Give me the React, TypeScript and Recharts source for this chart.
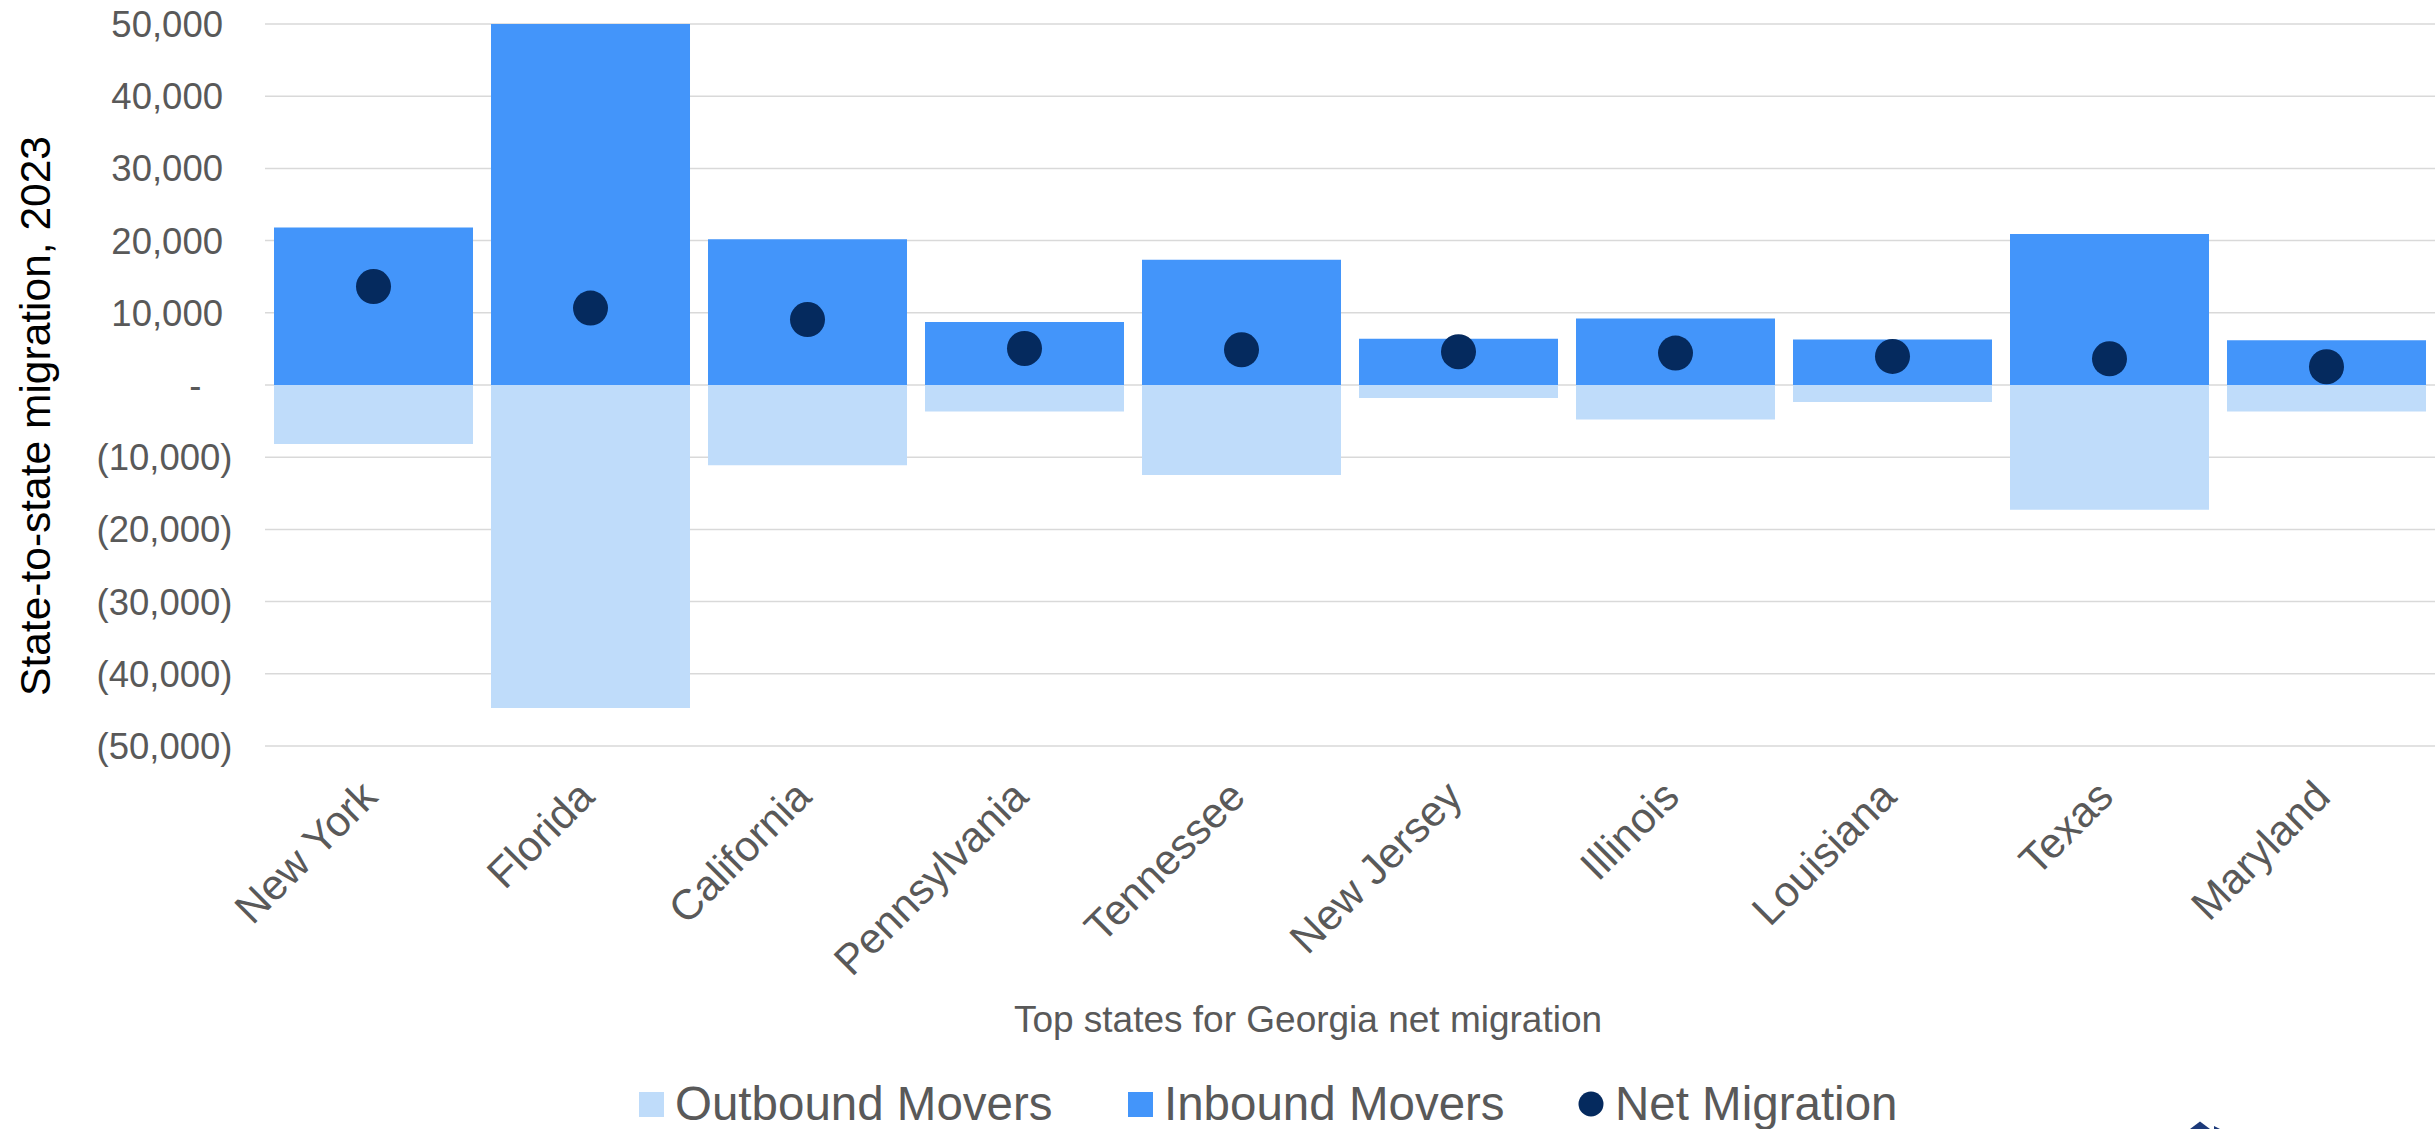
import React from 'react';
import {
  ComposedChart,
  Bar,
  Line,
  XAxis,
  YAxis,
  CartesianGrid,
  Legend,
} from 'recharts';

// Top states for Georgia net migration, 2023
const states = [
  'New York',
  'Florida',
  'California',
  'Pennsylvania',
  'Tennessee',
  'New Jersey',
  'Illinois',
  'Louisiana',
  'Texas',
  'Maryland',
];
const outboundMovers = [-8180, -44730, -11120, -3680, -12460, -1790, -4780, -2340, -17290, -3680];
const inboundMovers = [21820, 55380, 20190, 8740, 17340, 6400, 9200, 6300, 20920, 6210];
const netMigration = [13640, 10650, 9070, 5060, 4880, 4610, 4420, 3960, 3630, 2530];

const yTicks = [-50000, -40000, -30000, -20000, -10000, 0, 10000, 20000, 30000, 40000, 50000];

const COLORS = {
  outbound: '#BFDCFA',
  inbound: '#4395FA',
  net: '#052A5E',
  grid: '#D9D9D9',
  tick: '#595959',
  title: '#000000',
};

const legendItems = [
  { label: 'Outbound Movers', color: COLORS.outbound, shape: 'square' },
  { label: 'Inbound Movers', color: COLORS.inbound, shape: 'square' },
  { label: 'Net Migration', color: COLORS.net, shape: 'circle' },
];

const rows = states.map((state, i) => ({
  state,
  outbound: outboundMovers[i],
  inbound: inboundMovers[i],
  net: netMigration[i],
}));

const FONT = '"Liberation Sans", Arial, Helvetica, sans-serif';
const WIDTH = 2435;
const HEIGHT = 1129;

// Accounting-style number format: 10,000 / (10,000) / -
const formatAccounting = (v: number) => {
  if (v === 0) return '-';
  const s = Math.abs(v).toLocaleString('en-US');
  return v < 0 ? `(${s})` : s;
};

const YTick = (props: any) => {
  const { x, y, payload } = props;
  const v = payload.value as number;
  const endX = v < 0 ? x - 32.5 : v > 0 ? x - 42 : x - 63.5;
  return (
    <text
      x={endX}
      y={y}
      dy="0.355em"
      textAnchor="end"
      fontSize={36.5}
      fontFamily={FONT}
      fill={COLORS.tick}
    >
      {formatAccounting(v)}
    </text>
  );
};

const XTick = (props: any) => {
  const { x, y, payload } = props;
  const ax = x + 6;
  const ay = y + 53;
  return (
    <text
      x={ax}
      y={ay}
      textAnchor="end"
      fontSize={42.5}
      fontFamily={FONT}
      fill={COLORS.tick}
      transform={`rotate(-45 ${ax} ${ay})`}
    >
      {payload.value}
    </text>
  );
};

const XTitle = (props: any) => {
  const vb = props.viewBox || {};
  const cx = vb.x + vb.width / 2 - 42;
  return (
    <text
      x={cx}
      y={vb.y + 286}
      textAnchor="middle"
      fontSize={37}
      fontFamily={FONT}
      fill={COLORS.tick}
    >
      Top states for Georgia net migration
    </text>
  );
};

const YTitle = () => {
  const bx = 50;
  const cy = 416;
  return (
    <text
      x={bx}
      y={cy}
      textAnchor="middle"
      fontSize={42.5}
      fontFamily={FONT}
      fill={COLORS.title}
      transform={`rotate(-90 ${bx} ${cy})`}
    >
      State-to-state migration, 2023
    </text>
  );
};

const LegendBox = () => {
  const swatchX = [639, 1128, 1591];
  const textX = [675, 1164, 1615];
  return (
    <svg width={WIDTH} height={60} style={{ display: 'block' }}>
      {legendItems.map((item, i) =>
        item.shape === 'circle' ? (
          <circle key={item.label} cx={swatchX[i]} cy={35} r={12.5} fill={item.color} />
        ) : (
          <rect key={item.label} x={swatchX[i]} y={23} width={25} height={25} fill={item.color} />
        )
      )}
      {legendItems.map((item, i) => (
        <text
          key={item.label + '-t'}
          x={textX[i]}
          y={51}
          fontSize={47.5}
          fontFamily={FONT}
          fill={COLORS.tick}
        >
          {item.label}
        </text>
      ))}
    </svg>
  );
};

export default function App() {
  return (
    <div
      style={{
        position: 'absolute',
        left: 0,
        top: 0,
        width: WIDTH,
        height: HEIGHT,
        background: '#ffffff',
        fontFamily: FONT,
        overflow: 'hidden',
      }}
    >
      <ComposedChart
        width={WIDTH}
        height={HEIGHT}
        data={rows}
        margin={{ top: 24, right: 0, left: 0, bottom: 0 }}
        stackOffset="sign"
        barCategoryGap="4.15%"
      >
        <CartesianGrid vertical={false} stroke={COLORS.grid} strokeWidth={1.5} />
        <XAxis
          dataKey="state"
          height={323}
          interval={0}
          tickLine={false}
          axisLine={false}
          tickSize={0}
          tickMargin={0}
          tick={<XTick />}
          label={<XTitle />}
        />
        <YAxis
          width={265}
          domain={[-50000, 50000]}
          ticks={yTicks}
          allowDataOverflow
          tickLine={false}
          axisLine={false}
          tickSize={0}
          tickMargin={0}
          tick={<YTick />}
          label={<YTitle />}
        />
        <Bar dataKey="outbound" stackId="movers" fill={COLORS.outbound} isAnimationActive={false} />
        <Bar dataKey="inbound" stackId="movers" fill={COLORS.inbound} isAnimationActive={false} />
        <Line
          dataKey="net"
          stroke="none"
          dot={{ r: 17.5, fill: COLORS.net, stroke: 'none', strokeWidth: 0 }}
          activeDot={false}
          isAnimationActive={false}
        />
        <Legend
          verticalAlign="bottom"
          align="left"
          width={WIDTH}
          height={60}
          wrapperStyle={{ left: 0, bottom: 0, width: WIDTH, height: 60 }}
          content={() => <LegendBox />}
        />
      </ComposedChart>
      {/* publisher mark peeking in at the bottom edge */}
      <svg
        width={60}
        height={12}
        style={{ position: 'absolute', left: 2180, top: HEIGHT - 12 }}
      >
        <polygon points="10,12 20,4.5 30,12" fill="#1D3A7A" />
        <polygon points="34,9 40,12 34,12" fill="#1D3A7A" />
      </svg>
    </div>
  );
}
